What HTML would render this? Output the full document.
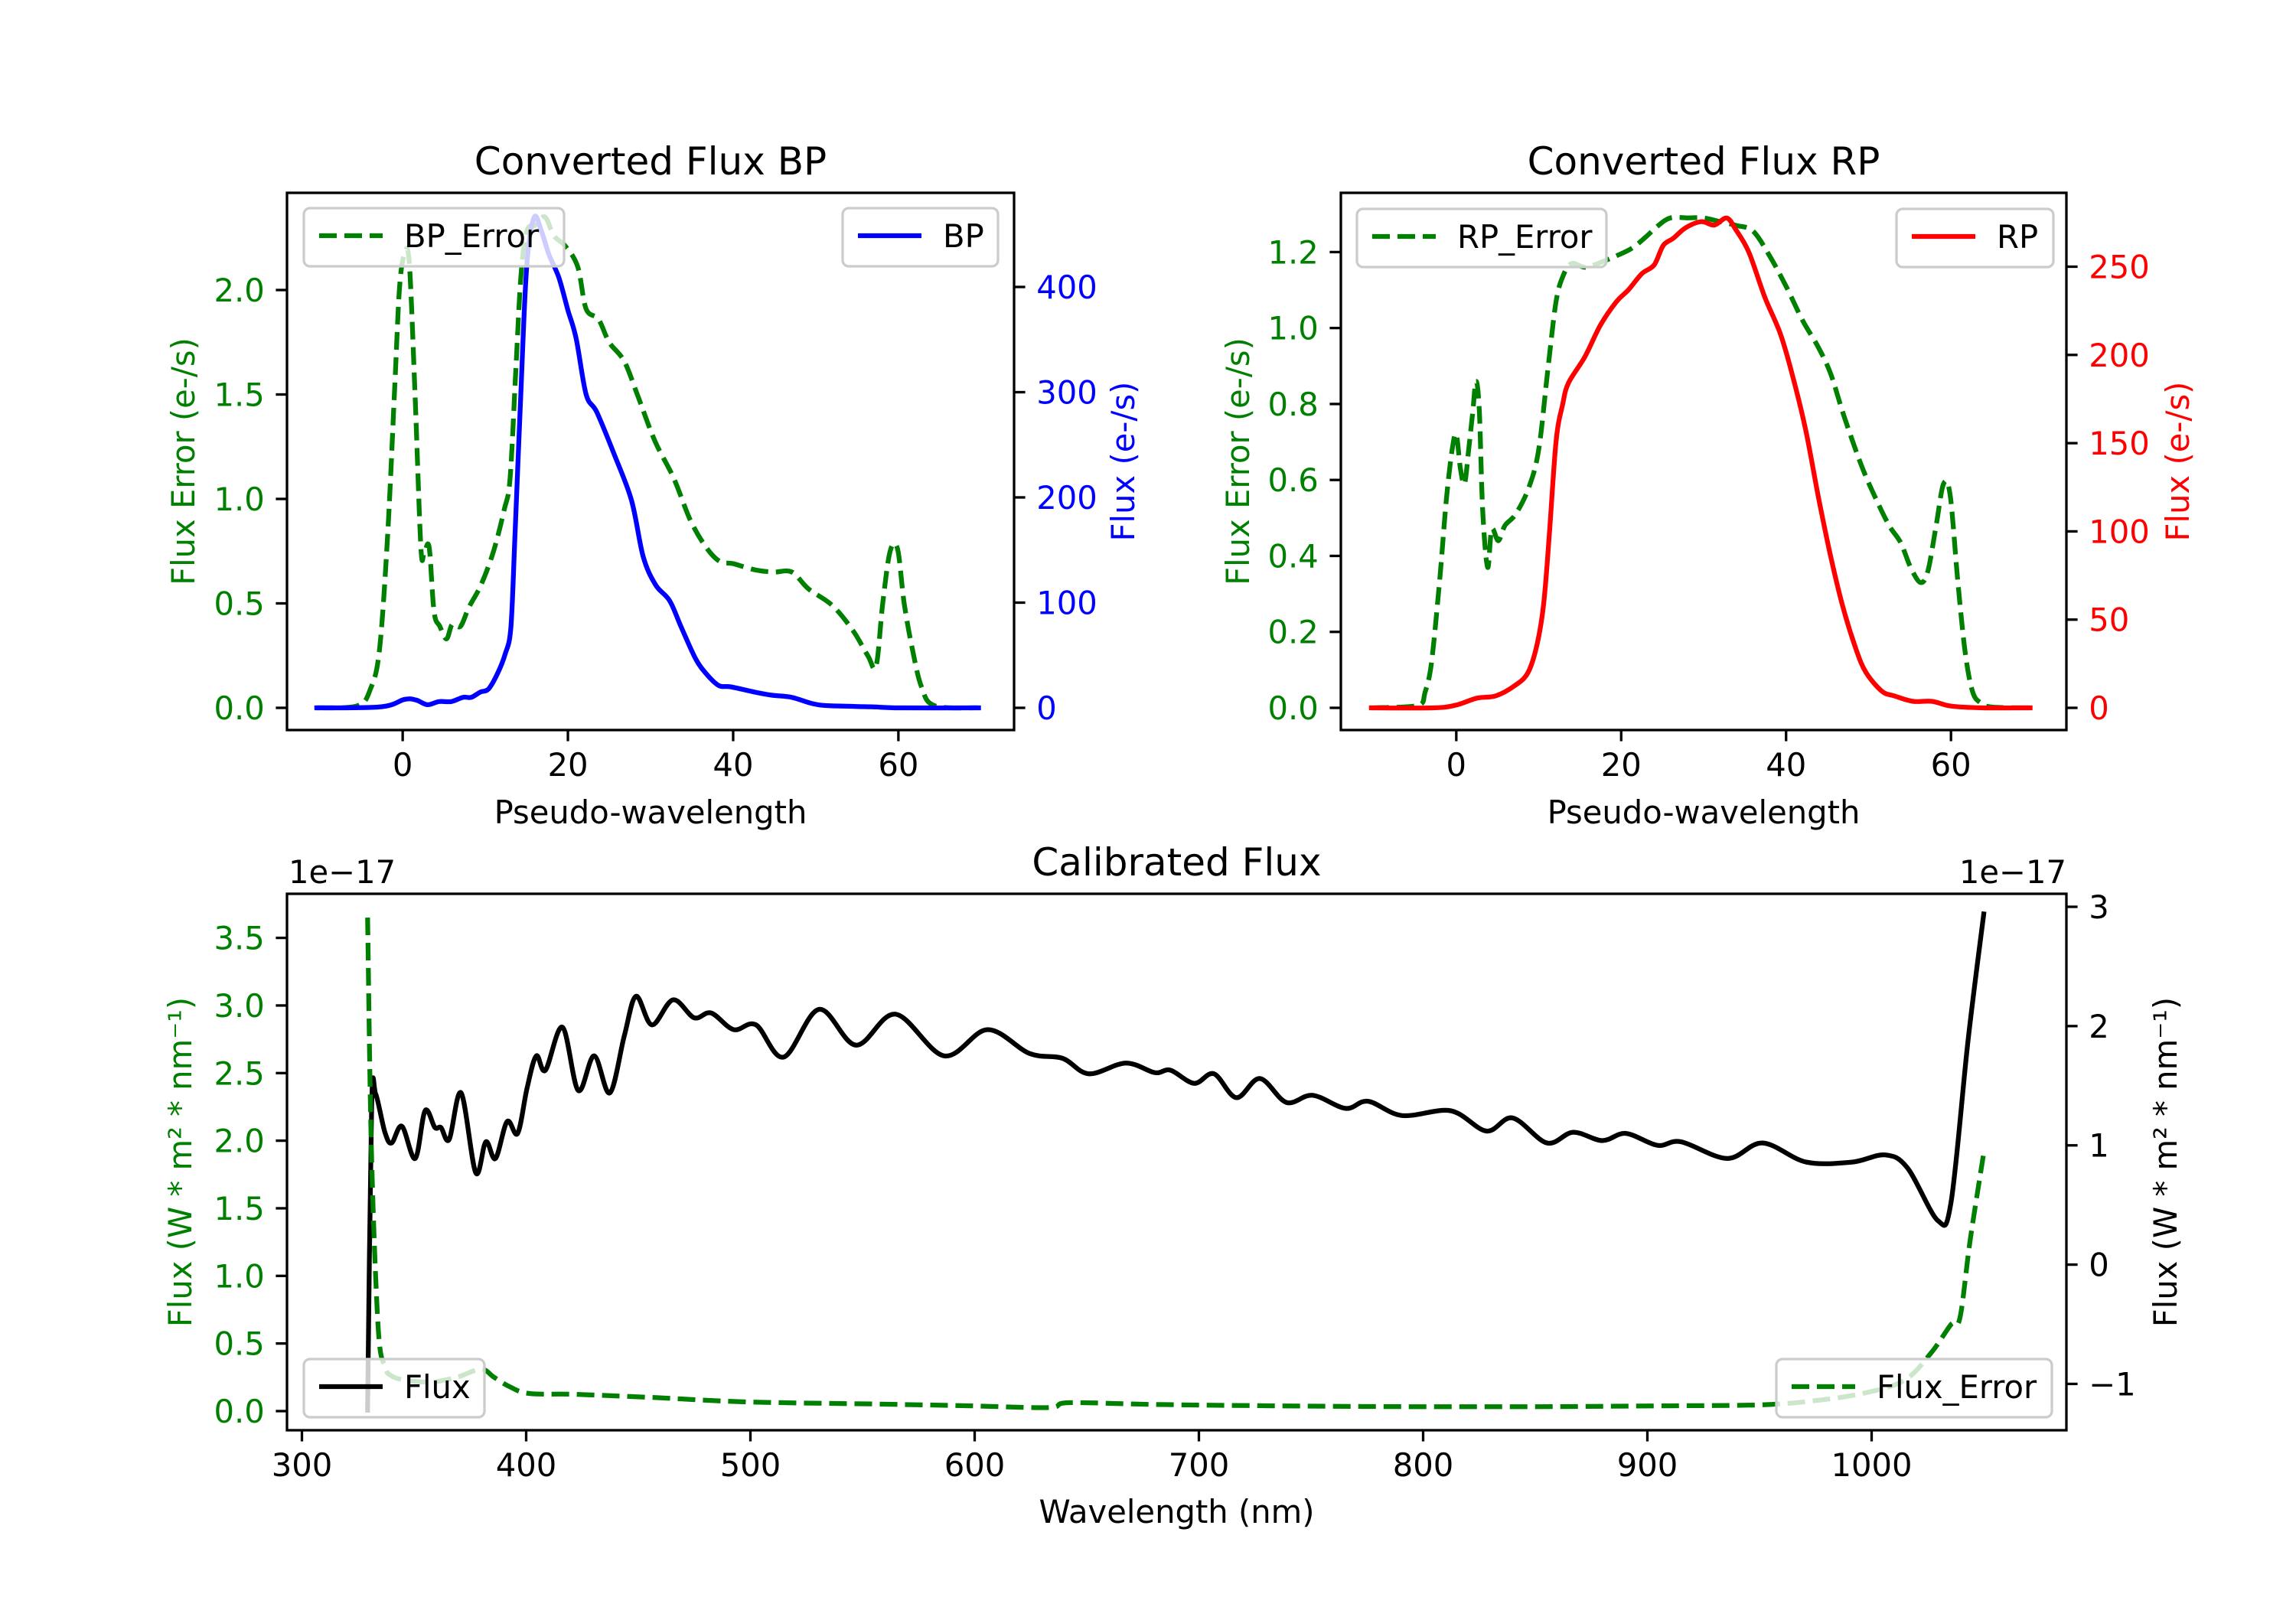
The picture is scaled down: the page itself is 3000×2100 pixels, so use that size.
<!DOCTYPE html>
<html><head><meta charset="utf-8"><style>
html,body{margin:0;padding:0;background:#fff;}
svg{display:block;font-family:"DejaVu Sans","Liberation Sans",sans-serif;}
</style></head><body>
<svg id="fig" width="3000" height="2100" viewBox="0 0 3000 2100" xmlns="http://www.w3.org/2000/svg">
<rect width="3000" height="2100" fill="#fff"/>
</svg>
<script>
// ---- BP panel data ----
const bpX = [-10.4,-2.6,0.2,1.6,3.0,4.4,5.9,7.3,8.3,9.4,10.4,11.5,12.4,13.1,13.6,14.3,15.0,15.9,16.8,17.7,18.9,20.0,21.0,22.2,23.5,25.6,27.7,29.1,30.6,32.3,33.7,35.5,36.9,38.3,39.7,42.6,44.7,47.1,49.6,51.7,56.7,60.2,69.7];
const bpFlux = [0,1,8,7.5,3,6,6,10,10,15,18,33,51,77,166,298,418,466,453,431,409,378,351,298,281,241,197,144,117,102,77,46,31,21,20,15,12,10,4,2,1,0,0];
const bpErrX = [-10.4,-5.5,-3.9,-2.8,-1.8,-1.0,-0.4,0.2,0.8,1.5,2.2,2.6,3.2,3.8,4.5,5.3,6.0,7.0,8.0,9.5,11.0,12.3,13.0,13.7,14.3,15.0,16.0,17.2,18.3,19.7,21.2,22.2,23.7,25.0,26.8,28.4,30.5,32.8,34.8,36.7,38.4,40.0,42.7,44.9,47.1,49.1,52.0,54.5,56.3,57.3,58.1,59.0,59.9,60.7,61.7,62.8,64.4,69.7];
const bpErr = [0,0.01,0.09,0.28,0.84,1.5,2.0,2.17,2.13,1.5,0.77,0.74,0.77,0.46,0.39,0.33,0.40,0.39,0.48,0.59,0.75,0.95,1.10,1.62,2.06,2.28,2.31,2.35,2.26,2.21,2.11,1.91,1.86,1.75,1.66,1.5,1.28,1.10,0.90,0.77,0.70,0.69,0.66,0.65,0.65,0.57,0.49,0.37,0.25,0.20,0.50,0.75,0.76,0.50,0.28,0.10,0.01,0];
const bpXTicks = [0,20,40,60];
const bpLeftTicks = [0,0.5,1.0,1.5,2.0];
const bpLeftLabels = ["0.0","0.5","1.0","1.5","2.0"];
const bpRightTicks = [0,100,200,300,400];
// ---- RP panel data ----
const rpX = [-10.3,-2.8,0,2.5,4.8,7.1,8.7,9.8,10.6,11.3,12.1,12.9,13.6,15.6,17.5,19.4,20.9,22.5,24.0,25.1,26.3,27.8,29.7,31.3,32.8,33.9,35.5,37.4,39.3,40.8,42.4,43.9,45.4,46.9,48.5,49.7,51.6,53.1,55.4,57.7,60.0,63.8,69.6];
const rpFlux = [0,0,1.6,5.5,6.8,12.6,20,36,59,99,151,172,184,199,217,230,237,246,251,262,266,272,275.5,273.6,277.6,271,258,233,212,188,157,120,86,57,33,20,9.5,6.8,3.7,3.7,1,0,0];
const rpErrX = [-10.3,-4.5,-3.8,-3.0,-2.0,-1.2,-0.5,0.0,0.5,1.0,1.5,2.0,2.4,2.8,3.2,3.8,4.3,5.1,5.9,7.2,8.8,10.0,11.1,12.1,13.0,14.0,15.6,17.2,19.4,21.3,23.0,24.5,26.0,28.1,30.0,32.0,34.0,36.0,38.0,40.0,42.0,43.9,45.4,47.0,49.1,50.9,52.5,53.9,55.1,56.3,57.2,58.2,59.1,59.9,60.8,61.7,62.6,63.6,65,69.6];
const rpErr = [0,0.007,0.04,0.12,0.34,0.55,0.68,0.72,0.63,0.59,0.68,0.78,0.86,0.78,0.52,0.37,0.47,0.44,0.48,0.51,0.58,0.68,0.89,1.07,1.14,1.17,1.16,1.17,1.19,1.21,1.24,1.27,1.29,1.29,1.29,1.28,1.27,1.255,1.19,1.11,1.02,0.95,0.88,0.77,0.64,0.55,0.48,0.435,0.37,0.33,0.36,0.48,0.59,0.56,0.34,0.15,0.044,0.013,0.002,0];
const rpXTicks = [0,20,40,60];
const rpLeftTicks = [0,0.2,0.4,0.6,0.8,1.0,1.2];
const rpLeftLabels = ["0.0","0.2","0.4","0.6","0.8","1.0","1.2"];
const rpRightTicks = [0,50,100,150,200,250];
// ---- Calibrated panel data (x1e-17) ----
const calWl = [329.3,331.1,332.9,337,340,344.6,350.5,354.9,359.3,362,365.7,371,377.5,382,386.3,391.5,396.2,400.4,404.5,408.6,416.2,423.2,430.3,437.3,443.8,449,456.1,465.5,474.9,482.5,492.5,502.5,514.8,530.6,547.1,564.7,586.4,605.7,624.5,639.2,650.9,667.4,680.3,687.3,697.9,706.7,716.7,727.2,739,750.7,765.4,775.4,790.6,812.3,828.2,839.9,855.2,866.9,879.8,890.4,904.5,915,935.6,951.4,970.8,991.3,1006,1016,1029.5,1035.4,1043,1050];
const calFlux = [-1.22,1.33,1.43,1.11,1.02,1.16,0.89,1.29,1.15,1.15,1.05,1.44,0.77,1.03,0.89,1.20,1.10,1.48,1.75,1.63,1.99,1.46,1.75,1.44,1.92,2.25,2.01,2.22,2.07,2.11,1.97,2.01,1.74,2.14,1.84,2.10,1.75,1.97,1.77,1.73,1.60,1.69,1.61,1.63,1.52,1.60,1.40,1.56,1.36,1.42,1.31,1.37,1.25,1.29,1.12,1.23,1.02,1.11,1.04,1.10,1.00,1.03,0.89,1.02,0.86,0.86,0.92,0.81,0.37,0.52,1.88,2.94];
const errWl = [329.3,331,334,337,340,345.8,357.5,369,379.8,385.7,392.7,401.5,422,457.3,498.4,557,598,633,642,680,733,791.8,850.5,909,950,973.7,997,1014.8,1026.5,1035.4,1039.4,1044,1050];
const calErr = [3.65,1.93,0.62,0.33,0.26,0.23,0.215,0.25,0.31,0.25,0.18,0.13,0.124,0.10,0.068,0.052,0.039,0.026,0.062,0.049,0.039,0.033,0.033,0.039,0.046,0.075,0.134,0.23,0.43,0.64,0.69,1.27,1.91];
const calXTicks = [300,400,500,600,700,800,900,1000];
const calLeftTicks = [0,0.5,1.0,1.5,2.0,2.5,3.0,3.5];
const calLeftLabels = ["0.0","0.5","1.0","1.5","2.0","2.5","3.0","3.5"];
const calRightTicks = [-1,0,1,2,3];
const calRightLabels = ["\u22121","0","1","2","3"];

const NS = "http://www.w3.org/2000/svg";
const fig = document.getElementById("fig");
function mk(tag, attrs, parent){
  const e = document.createElementNS(NS, tag);
  for (const k in attrs) e.setAttribute(k, attrs[k]);
  (parent||fig).appendChild(e);
  return e;
}
function lin(d0,p0,d1,p1){ return v => p0 + (v-d0)*(p1-p0)/(d1-d0); }
function smoothPath(pts){
  // monotone-ish Catmull-Rom with tension
  let d = "M" + pts[0][0].toFixed(1) + " " + pts[0][1].toFixed(1);
  const t = 0.5/3;
  for (let i=0;i<pts.length-1;i++){
    const p0 = pts[Math.max(0,i-1)], p1 = pts[i], p2 = pts[i+1], p3 = pts[Math.min(pts.length-1,i+2)];
    let c1x = p1[0] + (p2[0]-p0[0])*t, c1y = p1[1] + (p2[1]-p0[1])*t;
    let c2x = p2[0] - (p3[0]-p1[0])*t, c2y = p2[1] - (p3[1]-p1[1])*t;
    // keep control x within segment to avoid loops
    c1x = Math.min(Math.max(c1x, Math.min(p1[0],p2[0])), Math.max(p1[0],p2[0]));
    c2x = Math.min(Math.max(c2x, Math.min(p1[0],p2[0])), Math.max(p1[0],p2[0]));
    d += "C" + c1x.toFixed(1)+" "+c1y.toFixed(1)+" "+c2x.toFixed(1)+" "+c2y.toFixed(1)+" "+p2[0].toFixed(1)+" "+p2[1].toFixed(1);
  }
  return d;
}
const LW = 6.25, FS = 41.7, TL = 14.6;
const DASH = "23 10";

function panel(cfg){
  const g = mk("g", {});
  
  
  const clipId = cfg.name + "-clip";
  const cp = mk("clipPath", {id: clipId}, g);
  mk("rect", {x: cfg.L, y: cfg.T, width: cfg.R-cfg.L, height: cfg.B-cfg.T}, cp);
  const lines = mk("g", {"clip-path": "url(#"+clipId+")"}, g);
  
  
  cfg.series.forEach(s => {
    const pts = s.xs.map((xv,i) => [cfg.x(xv), s.y(s.ys[i])]);
    const p = mk("path", {d: smoothPath(pts), fill: "none", stroke: s.color, "stroke-width": LW, "stroke-linejoin": "round", "stroke-linecap": s.dash ? "butt" : "square"}, lines);
    if (s.dash) p.setAttribute("stroke-dasharray", DASH);
    
    
  });
  const fr = mk("rect", {x: cfg.L, y: cfg.T, width: cfg.R-cfg.L, height: cfg.B-cfg.T, fill: "none", stroke: "#000", "stroke-width": 3.3}, g);
  
  
  cfg.xTicks.forEach((t,i) => {
    const px = cfg.x(t);
    const tk = mk("line", {x1: px, x2: px, y1: cfg.B, y2: cfg.B+TL, stroke: "#000", "stroke-width": 3.3}, g);
    
    
    const tx = mk("text", {x: px, y: cfg.B+TL+14.6+31, "text-anchor": "middle", "font-size": FS, fill: "#000"}, g);
    tx.textContent = String(t);
    
    
  });
  cfg.lTicks.forEach((t,i) => {
    const py = cfg.yl(t);
    const tk = mk("line", {x1: cfg.L-TL, x2: cfg.L, y1: py, y2: py, stroke: "#000", "stroke-width": 3.3}, g);
    
    
    const tx = mk("text", {x: cfg.L-TL-14.6, y: py+15, "text-anchor": "end", "font-size": FS, fill: cfg.lColor}, g);
    tx.textContent = cfg.lLabels[i];
    
    
  });
  cfg.rTicks.forEach((t,i) => {
    const py = cfg.yr(t);
    const tk = mk("line", {x1: cfg.R, x2: cfg.R+TL, y1: py, y2: py, stroke: "#000", "stroke-width": 3.3}, g);
    
    
    const tx = mk("text", {x: cfg.R+TL+14.6, y: py+15, "text-anchor": "start", "font-size": FS, fill: cfg.rColor}, g);
    tx.textContent = cfg.rLabels[i];
    
    
  });
  const ti = mk("text", {x: (cfg.L+cfg.R)/2, y: cfg.T-24, "text-anchor": "middle", "font-size": 50, fill: "#000"}, g);
  ti.textContent = cfg.title;
  
  
  const xl = mk("text", {x: (cfg.L+cfg.R)/2, y: cfg.xlY, "text-anchor": "middle", "font-size": FS, fill: "#000"}, g);
  xl.textContent = cfg.xLabel;
  
  
  const cy = (cfg.T+cfg.B)/2;
  const yl = mk("text", {x: cfg.ylX, y: cy, "text-anchor": "middle", "font-size": FS, fill: cfg.lColor, transform: "rotate(-90 "+cfg.ylX+" "+cy+")"}, g);
  yl.textContent = cfg.yLabelL;
  
  
  const yr = mk("text", {x: cfg.yrX, y: cy, "text-anchor": "middle", "font-size": FS, fill: cfg.rColor, transform: "rotate(-90 "+cfg.yrX+" "+cy+")"}, g);
  yr.textContent = cfg.yLabelR;
  
  
  cfg.legends.forEach(lg => {
    const lgG = mk("g", {}, g);
    
    
    mk("rect", {x: lg.x, y: lg.y, width: lg.w, height: 76, rx: 8, fill: "rgba(255,255,255,0.8)", stroke: "#cccccc", "stroke-width": 3.3}, lgG);
    const ln = mk("line", {x1: lg.x+20, x2: lg.x+103, y1: lg.y+36, y2: lg.y+36, stroke: lg.color, "stroke-width": LW}, lgG);
    if (lg.dash) ln.setAttribute("stroke-dasharray", DASH);
    const lt = mk("text", {x: lg.x+131, y: lg.y+51, "font-size": FS, fill: "#000"}, lgG);
    lt.textContent = lg.label;
  });
  (cfg.offsets||[]).forEach(o => {
    const ot = mk("text", {x: o.x, y: cfg.T-14, "text-anchor": o.anchor, "font-size": FS, fill: "#000"}, g);
    ot.textContent = "1e\u221217";
    
    
  });
}

{
  const L=375,R=1325,T=252,B=954;
  const x = lin(-14,L,74,R);
  const yl = lin(0,925,2,379);
  const yr = lin(0,925,400,375);
  panel({name:"bp-chart",L,R,T,B,x,yl,yr,title:"Converted Flux BP",xLabel:"Pseudo-wavelength",xlY:1076,
    yLabelL:"Flux Error (e-/s)",yLabelR:"Flux (e-/s)",ylX:254,yrX:1482,lColor:"green",rColor:"blue",
    xTicks:bpXTicks,lTicks:bpLeftTicks,lLabels:bpLeftLabels,rTicks:bpRightTicks,rLabels:bpRightTicks.map(String),
    series:[{name:"bp-error-line",xs:bpErrX,ys:bpErr,y:yl,color:"green",dash:true},{name:"bp-flux-line",xs:bpX,ys:bpFlux,y:yr,color:"blue"}],
    legends:[{x:397,y:272,w:340,color:"green",dash:true,label:"BP_Error"},{x:1101,y:272,w:203,color:"blue",label:"BP"}]});
}
{
  const L=1752,R=2700,T=252,B=954;
  const x = lin(-14,L,74,R);
  const yl = lin(0,925,1.2,329.4);
  const yr = lin(0,925,250,348.5);
  panel({name:"rp-chart",L,R,T,B,x,yl,yr,title:"Converted Flux RP",xLabel:"Pseudo-wavelength",xlY:1076,
    yLabelL:"Flux Error (e-/s)",yLabelR:"Flux (e-/s)",ylX:1632,yrX:2860,lColor:"green",rColor:"red",
    xTicks:rpXTicks,lTicks:rpLeftTicks,lLabels:rpLeftLabels,rTicks:rpRightTicks,rLabels:rpRightTicks.map(String),
    series:[{name:"rp-error-line",xs:rpErrX,ys:rpErr,y:yl,color:"green",dash:true},{name:"rp-flux-line",xs:rpX,ys:rpFlux,y:yr,color:"red"}],
    legends:[{x:1773,y:273,w:326,color:"green",dash:true,label:"RP_Error"},{x:2478,y:273,w:205,color:"red",label:"RP"}]});
}
{
  const L=375,R=2700,T=1168,B=1869;
  const x = lin(300,394.5,1000,2445.5);
  const yl = lin(0,1844,3.5,1225.6);
  const yr = lin(0,1652.6,3,1185);
  panel({name:"calibrated-chart",L,R,T,B,x,yl,yr,title:"Calibrated Flux",xLabel:"Wavelength (nm)",xlY:1990,
    yLabelL:"Flux (W * m\u00B2 * nm\u207B\u00B9)",yLabelR:"Flux (W * m\u00B2 * nm\u207B\u00B9)",ylX:250,yrX:2844,lColor:"green",rColor:"#000",
    xTicks:calXTicks,lTicks:calLeftTicks,lLabels:calLeftLabels,rTicks:calRightTicks,rLabels:calRightLabels,
    series:[{name:"flux-line",xs:calWl,ys:calFlux,y:yr,color:"#000"},{name:"flux-error-line",xs:errWl,ys:calErr,y:yl,color:"green",dash:true}],
    legends:[{x:397,y:1776,w:236,color:"#000",label:"Flux"},{x:2321,y:1776,w:360,color:"green",dash:true,label:"Flux_Error"}],
    offsets:[{x:377,anchor:"start"},{x:2700,anchor:"end"}]});
}
</script>
</body></html>
